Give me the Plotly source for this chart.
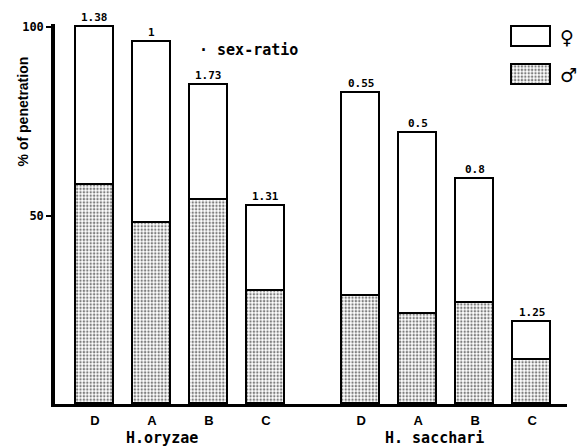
import plotly.graph_objects as go

# ---- data ----
groups = ["H.oryzae", "H. sacchari"]
categories = ["D", "A", "B", "C", "D", "A", "B", "C"]
male = [58.0, 48.0, 54.0, 30.0, 28.7, 23.9, 26.7, 11.8]
female = [42.0, 48.0, 30.5, 22.6, 53.9, 47.9, 33.0, 9.9]
sex_ratio = ["1.38", "1", "1.73", "1.31", "0.55", "0.5", "0.8", "1.25"]
y_ticks = [50, 100]

# layout positions (two groups of four bars with a wider gap)
positions = [0, 1, 2, 3, 4.67, 5.67, 6.67, 7.67]
group_label_x = [1.18, 5.96]

SANS = "Liberation Sans"
MONO = "DejaVu Sans Mono"
BW = 0.67
dots = dict(shape=".", fgcolor="black", bgcolor="white", size=3.4, solidity=0.4)

fig = go.Figure()
fig.add_trace(go.Bar(
    x=positions, y=male, width=BW, name="♂",
    marker=dict(color="white", line=dict(color="black", width=1.8), pattern=dots),
    showlegend=False, cliponaxis=False,
))
fig.add_trace(go.Bar(
    x=positions, y=female, width=BW, name="♀",
    marker=dict(color="white", line=dict(color="black", width=1.8)),
    showlegend=False, cliponaxis=False,
))

# legend boxes drawn on a tiny auxiliary axis
fig.add_trace(go.Bar(
    x=[1, 1], y=[0, 1], orientation="h", width=0.526,
    marker=dict(color="white", line=dict(color="black", width=1.6),
                pattern=dict(shape=[".", ""], fgcolor="black", bgcolor="white",
                             size=3.4, solidity=0.4)),
    xaxis="x2", yaxis="y2", showlegend=False, hoverinfo="skip", cliponaxis=False,
))

total = [m + f for m, f in zip(male, female)]
annotations = []
for xp, t, s in zip(positions, total, sex_ratio):
    annotations.append(dict(x=xp, y=t, text=s, showarrow=False, yanchor="bottom",
                            yshift=1, font=dict(family=MONO, size=11, color="black", weight=700)))
for gx, g in zip(group_label_x, groups):
    annotations.append(dict(x=gx, xref="x", y=-0.0888, yref="paper", text=g, showarrow=False,
                            yanchor="middle", xanchor="center",
                            font=dict(family=MONO, size=15, color="black", weight=700)))
annotations.append(dict(x=-0.0625, xref="paper", y=0.770, yref="paper", text="% of penetration",
                        textangle=-90, showarrow=False, xanchor="center", yanchor="middle",
                        font=dict(family=SANS, size=14, color="black", weight=700)))
annotations.append(dict(x=0.278, xref="paper", y=0.932, yref="paper", text="· sex-ratio",
                        xanchor="left", yanchor="middle", showarrow=False,
                        font=dict(family=MONO, size=15, color="black", weight=700)))
annotations.append(dict(x=1.0, xref="paper", y=0.966, yref="paper", text="♀",
                        xanchor="center", yanchor="middle",
                        showarrow=False, font=dict(family="DejaVu Sans", size=19, color="black")))
annotations.append(dict(x=1.002, xref="paper", y=0.867, yref="paper", text="♂",
                        xanchor="center", yanchor="middle",
                        showarrow=False, font=dict(family="DejaVu Sans", size=19, color="black")))

# the page adds an 8px body margin, so the figure is drawn 8px smaller
fig.update_layout(
    width=578, height=438,
    margin=dict(l=47, r=19, t=13, b=42),
    paper_bgcolor="white", plot_bgcolor="white",
    barmode="stack", bargap=0,
    showlegend=False,
    xaxis=dict(range=[-0.7, 8.28], tickvals=positions, ticktext=categories,
               showline=True, linewidth=3, linecolor="black", ticks="",
               showgrid=False, zeroline=False, ticklabelstandoff=2,
               tickfont=dict(family=SANS, size=13, color="black", weight=700)),
    yaxis=dict(range=[0, 100.8], tickvals=y_ticks, ticks="outside", ticklen=5,
               tickwidth=2, tickcolor="black", showline=True, linewidth=3.5,
               linecolor="black", showgrid=False, zeroline=False,
               tickfont=dict(family=MONO, size=12, color="black", weight=700)),
    xaxis2=dict(domain=[0.8887, 0.9727], range=[-0.05, 1.05], anchor="y2",
                visible=False, fixedrange=True),
    yaxis2=dict(domain=[0.817, 1.0], range=[-0.5, 1.342], anchor="x2",
                visible=False, fixedrange=True),
    annotations=annotations,
)

fig.write_html("out.html")
